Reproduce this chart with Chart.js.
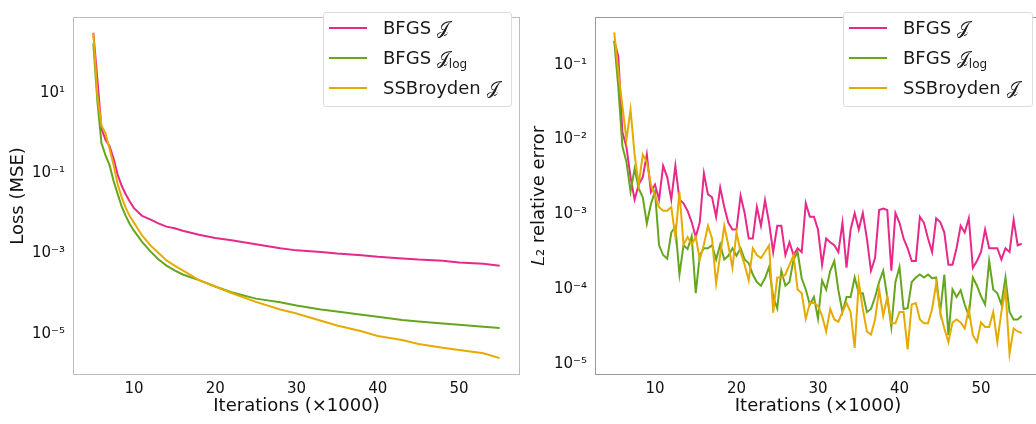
<!DOCTYPE html>
<html>
<head>
<meta charset="utf-8">
<script src="https://cdn.jsdelivr.net/npm/chart.js@4.4.0/dist/chart.umd.min.js"></script>
<style>
  body { margin: 0; width: 1036px; height: 424px; overflow: hidden; background: #fff; position: relative; font-family: "DejaVu Sans", sans-serif; }
  canvas { position: absolute; top: 0; }
  .legend { position: absolute; top: 12px; height: 95px; background: #fff; border: 1px solid #dcdcdc; border-radius: 3px; box-sizing: border-box; }
  .legend .row { position: relative; height: 30px; line-height: 30px; font-size: 18px; color: #1a1a1a; white-space: nowrap; }
  .legend .swatch { position: absolute; left: 5px; top: 14px; width: 38px; height: 2px; }
  .legend .txt { position: absolute; left: 59px; top: 0; }
  .legend sub { font-size: 12px; vertical-align: -4px; line-height: 0; }
</style>
</head>
<body>
<canvas id="lossChart" width="522" height="424" style="left:0"></canvas>
<canvas id="errChart" width="524" height="424" style="left:520px"></canvas>
<div class="legend" id="lossLegend" style="left:323px;width:189px"></div>
<div class="legend" id="errLegend" style="left:843px;width:190px"></div>
<script>
// series names + colours (Dark2)
var seriesNames = ['BFGS 𝒥', 'BFGS 𝒥log', 'SSBroyden 𝒥'];
var legendHtml = ['BFGS 𝒥', 'BFGS 𝒥<sub>log</sub>', 'SSBroyden 𝒥'];
var colors = ['#e7298a', '#66a61e', '#e6ab02'];

// tick values
var xTicks = [10, 20, 30, 40, 50];
var lossTicks = [1e1, 1e-1, 1e-3, 1e-5];
var errTicks = [1e-1, 1e-2, 1e-3, 1e-4, 1e-5];

// left panel: loss, values stored as log10
var lossIters = [5, 5.5, 6, 6.5, 7, 7.5, 8, 8.5, 9, 9.5, 10, 11, 12, 13, 14, 15, 16, 18, 20, 22, 25, 28, 30, 33, 35, 38, 40, 43, 45, 48, 50, 53, 55];
var bfgsLossLog = [2.49, 1.34, 0.11, -0.17, -0.33, -0.64, -1.04, -1.32, -1.53, -1.71, -1.87, -2.06, -2.15, -2.25, -2.33, -2.37, -2.43, -2.53, -2.61, -2.67, -2.77, -2.87, -2.92, -2.96, -3.0, -3.04, -3.08, -3.12, -3.15, -3.18, -3.22, -3.25, -3.3];
var bfgsLogLossLog = [2.23, 0.79, -0.25, -0.56, -0.8, -1.2, -1.52, -1.83, -2.07, -2.27, -2.43, -2.71, -2.94, -3.14, -3.3, -3.42, -3.52, -3.66, -3.82, -3.96, -4.12, -4.21, -4.29, -4.39, -4.44, -4.52, -4.57, -4.65, -4.69, -4.74, -4.77, -4.82, -4.85];
var ssbLossLog = [2.49, 0.94, 0.19, -0.01, -0.4, -0.8, -1.28, -1.6, -1.87, -2.07, -2.23, -2.55, -2.79, -2.98, -3.17, -3.3, -3.42, -3.66, -3.82, -3.98, -4.2, -4.39, -4.49, -4.67, -4.79, -4.93, -5.05, -5.15, -5.25, -5.34, -5.4, -5.48, -5.6];

// right panel: L2 relative error, log10
var errIters = [5, 5.5, 6, 6.5, 7, 7.5, 8, 8.5, 9, 9.5,
  10, 10.5, 11, 11.5, 12, 12.5, 13, 13.5, 14, 14.5,
  15, 15.5, 16, 16.5, 17, 17.5, 18, 18.5, 19, 19.5,
  20, 20.5, 21, 21.5, 22, 22.5, 23, 23.5, 24, 24.5,
  25, 25.5, 26, 26.5, 27, 27.5, 28, 28.5, 29, 29.5,
  30, 30.5, 31, 31.5, 32, 32.5, 33, 33.5, 34, 34.5,
  35, 35.5, 36, 36.5, 37, 37.5, 38, 38.5, 39, 39.5,
  40, 40.5, 41, 41.5, 42, 42.5, 43, 43.5, 44, 44.5,
  45, 45.5, 46, 46.5, 47, 47.5, 48, 48.5, 49, 49.5,
  50, 50.5, 51, 51.5, 52, 52.5, 53, 53.5, 54, 54.5, 55];
var bfgsErrLog = [-0.68, -0.89, -1.9, -2.1, -2.5, -2.8, -2.6, -2.5, -2.2, -2.7,
  -2.6, -2.8, -2.35, -2.5, -2.8, -2.35, -2.8, -2.85, -2.95, -3.1,
  -3.3, -3.1, -2.45, -2.73, -2.77, -3.03, -2.64, -2.9, -3.11, -3.2,
  -3.2, -2.75, -2.98, -3.32, -3.32, -2.9, -3.15, -2.81, -3.11, -3.5,
  -3.15, -3.15, -3.54, -3.37, -3.54, -3.45, -3.5, -2.85, -3.03, -3.03,
  -3.2, -3.67, -3.32, -3.37, -3.41, -3.5, -3.11, -3.71, -3.2, -2.98,
  -3.2, -2.98, -3.32, -3.75, -3.58, -2.94, -2.92, -2.94, -3.75, -2.98,
  -3.11, -3.32, -3.45, -3.62, -3.62, -3.03, -3.11, -3.32, -3.5, -3.05,
  -3.1, -3.24, -3.67, -3.67, -3.45, -3.15, -3.24, -3.05, -3.71, -3.62,
  -3.5, -3.2, -3.45, -3.45, -3.45, -3.6, -3.45, -3.5, -3.07, -3.41, -3.39];
var bfgsLogErrLog = [-0.68, -1.3, -2.09, -2.3, -2.69, -2.39, -2.65, -2.77, -3.12, -2.86,
  -2.69, -3.41, -3.54, -3.59, -3.24, -3.16, -3.8, -3.41, -3.46, -3.29,
  -4.05, -3.54, -3.45, -3.45, -3.41, -3.6, -3.4, -3.6, -3.55, -3.45,
  -3.55, -3.45, -3.6, -3.65, -3.8, -3.9, -3.95, -3.85, -3.7, -4.1,
  -4.25, -3.75, -3.95, -3.9, -3.6, -3.5, -3.85, -4.0, -4.2, -4.1,
  -4.39, -3.88, -4.0, -3.75, -3.62, -4.01, -4.3, -4.1, -4.1, -3.84,
  -4.05, -4.05, -4.3, -4.26, -4.1, -3.9, -3.75, -4.1, -4.5, -3.9,
  -3.7, -4.26, -4.25, -3.9, -3.84, -3.8, -3.84, -3.8, -3.85, -3.84,
  -4.3, -3.8, -4.61, -4.0, -4.1, -4.01, -4.2, -4.35, -3.84, -3.95,
  -4.09, -4.2, -3.62, -4.0, -4.05, -4.2, -3.84, -4.3, -4.4, -4.4, -4.35];
var ssbErrLog = [-0.57, -1.1, -1.55, -2.0, -1.6, -2.2, -2.6, -2.2, -2.3, -2.6,
  -2.75, -2.9, -2.95, -2.95, -2.9, -3.3, -2.7, -3.4, -3.3, -3.4,
  -3.3, -3.6, -3.4, -3.15, -3.32, -3.92, -3.54, -3.15, -3.41, -3.71,
  -3.24, -3.5, -3.67, -3.88, -3.45, -3.54, -3.58, -3.5, -3.41, -4.31,
  -3.84, -3.84, -3.8, -3.67, -3.54, -4.0, -4.05, -4.39, -4.18, -4.18,
  -4.22, -4.35, -4.56, -4.26, -4.4, -4.43, -4.3, -4.18, -4.3, -4.78,
  -3.9, -4.26, -4.56, -4.6, -4.4, -4.0, -4.35, -4.1, -4.45, -4.45,
  -4.3, -4.3, -4.8, -4.2, -4.18, -4.4, -4.45, -4.45, -4.26, -3.92,
  -4.3, -4.52, -4.7, -4.44, -4.4, -4.44, -4.52, -4.26, -4.61, -4.7,
  -4.44, -4.5, -4.5, -4.3, -4.7, -4.3, -4.0, -4.86, -4.52, -4.56, -4.58];

var FONT = 'DejaVu Sans';
var supChars = {'-': '⁻', '0': '⁰', '1': '¹', '2': '²', '3': '³', '4': '⁴', '5': '⁵', '6': '⁶'};

function toPoints(xs, logs) {
  return xs.map(function (x, i) { return {x: x, y: Math.pow(10, logs[i])}; });
}

function powLabel(v) {
  var e = String(Math.round(Math.log10(v)));
  return '10' + e.split('').map(function (c) { return supChars[c]; }).join('');
}

// matplotlib style box around the axes
var framePlugin = {
  id: 'frame',
  afterDraw: function (chart, args, opts) {
    var a = chart.chartArea, ctx = chart.ctx;
    ctx.save();
    ctx.strokeStyle = opts.color;
    ctx.lineWidth = 1;
    ctx.strokeRect(Math.round(a.left) + 0.5, Math.round(a.top) + 0.5,
      Math.round(a.right - a.left) - 1, Math.round(a.bottom - a.top) - 1);
    ctx.restore();
  }
};

function makeDatasets(xs, a, b, c) {
  return [a, b, c].map(function (logs, i) {
    return {
      label: seriesNames[i],
      data: toPoints(xs, logs),
      borderColor: colors[i],
      borderWidth: 2,
      pointRadius: 0,
      tension: 0,
      fill: false,
      order: 2 - i
    };
  });
}

function makeConfig(datasets, cfg) {
  return {
    type: 'line',
    data: {datasets: datasets},
    plugins: [framePlugin],
    options: {
      responsive: false,
      animation: false,
      devicePixelRatio: 1,
      layout: {padding: {top: 2, right: cfg.padRight, left: 0, bottom: 0}},
      plugins: {
        legend: {display: false},
        tooltip: {enabled: false},
        frame: {color: cfg.frameColor}
      },
      scales: {
        x: {
          type: 'linear',
          bounds: 'data',
          min: cfg.xMin,
          max: cfg.xMax,
          afterBuildTicks: function (s) { s.ticks = xTicks.map(function (v) { return {value: v}; }); },
          afterFit: function (s) { s.height = 49; },
          grid: {display: false, drawTicks: false},
          border: {display: false},
          ticks: {color: '#111', padding: 5, maxRotation: 0, font: {family: FONT, size: 15}},
          title: {display: true, text: 'Iterations (×1000)', color: '#111', font: {family: FONT, size: 18}, padding: {top: 0, bottom: 7}}
        },
        y: {
          type: 'logarithmic',
          bounds: 'data',
          min: cfg.yMin,
          max: cfg.yMax,
          afterBuildTicks: function (s) { s.ticks = cfg.yTicks.map(function (v) { return {value: v}; }); },
          afterFit: function (s) { s.width = cfg.yWidth; },
          grid: {display: false, drawTicks: false},
          border: {display: false},
          ticks: {color: '#111', padding: 8, font: {family: FONT, size: 15}, callback: function (v) { return powLabel(v); }},
          title: {display: true, text: cfg.yTitle, color: '#111', font: {family: FONT, size: 18}, padding: {top: cfg.yTitlePad, bottom: 0}}
        }
      }
    }
  };
}

var lossChart = new Chart(document.getElementById('lossChart'), makeConfig(
  makeDatasets(lossIters, bfgsLossLog, bfgsLogLossLog, ssbLossLog),
  {xMin: 2.5, xMax: 57.5, yMin: 9.55e-7, yMax: 767, yTicks: lossTicks, yWidth: 73, padRight: 2,
   yTitle: 'Loss (MSE)', yTitlePad: 8, frameColor: '#bdbdbd'}
));

var errChart = new Chart(document.getElementById('errChart'), makeConfig(
  makeDatasets(errIters, bfgsErrLog, bfgsLogErrLog, ssbErrLog),
  {xMin: 2.64, xMax: 57.36, yMin: 7.23e-6, yMax: 0.4325, yTicks: errTicks, yWidth: 75, padRight: 3,
   yTitle: '𝐿₂ relative error', yTitlePad: 9, frameColor: '#9a9a9a'}
));

// html legends so the subscript can be real text
function buildLegend(id) {
  var box = document.getElementById(id);
  legendHtml.forEach(function (txt, i) {
    var row = document.createElement('div');
    row.className = 'row';
    row.innerHTML = '<span class="swatch" style="background:' + colors[i] + '"></span><span class="txt">' + txt + '</span>';
    box.appendChild(row);
  });
}
buildLegend('lossLegend');
buildLegend('errLegend');
</script>
</body>
</html>
